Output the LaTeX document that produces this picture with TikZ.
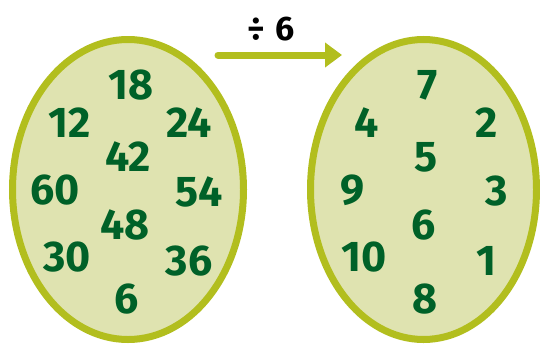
\documentclass[tikz,border=0pt]{standalone}
\usepackage{fontspec}
\setmainfont{Fira Sans}
\usepackage{xcolor}
\usetikzlibrary{shapes.geometric, arrows.meta, positioning}
\definecolor{ringolive}{RGB}{178, 190, 30}
\definecolor{eggfill}{RGB}{223, 227, 176}
\definecolor{numgreen}{RGB}{0, 97, 40}

\begin{document}
\begin{tikzpicture}[
    x=1pt, y=-1pt,
    every node/.style={font=\bfseries\fontsize{43}{43}\selectfont},
    egg/.style={ellipse, draw=ringolive, fill=eggfill, line width=7pt, inner sep=0pt},
    num/.style={text=numgreen, inner sep=0pt, anchor=center}
]
\useasboundingbox (0,0) rectangle (540,343);
\node[egg, minimum width=231pt, minimum height=300pt] (inegg) at (128,189.5) {};
\node[egg, minimum width=226pt, minimum height=300pt] (outegg) at (423.5,189.5) {};
% numbers before dividing
\node[num] (a18) at (131,85) {18};
\node[num] (a12) at (70,123) {12};
\node[num] (a24) at (189,123) {24};
\node[num] (a42) at (128,157) {42};
\node[num] (a60) at (55,190) {60};
\node[num] (a54) at (199,192) {54};
\node[num] (a48) at (125,225) {48};
\node[num] (a30) at (67,257) {30};
\node[num] (a36) at (189,261) {36};
\node[num] (a6) at (127,299) {6};
% numbers after dividing
\node[num] (b7) at (428,85) {7};
\node[num] (b4) at (367,123) {4};
\node[num] (b2) at (487,123) {2};
\node[num] (b5) at (426,157) {5};
\node[num] (b9) at (353,190) {9};
\node[num] (b3) at (497,191) {3};
\node[num] (b6) at (424,225) {6};
\node[num] (b10) at (364,257) {10};
\node[num] (b1) at (486,261) {1};
\node[num] (b8) at (425,299) {8};
% divide arrow
\coordinate (divstart) at (218,55);
\coordinate (divend) at (342,55);
\draw[ringolive, line width=7pt, line cap=round, -{Triangle[length=17pt, width=24pt]}] (divstart) -- (divend);
\node[font=\bfseries\fontsize{34}{34}\selectfont, inner sep=0pt] (divlabel) at (271,29) {÷\hspace{0.3em}6};
\end{tikzpicture}
\end{document}
